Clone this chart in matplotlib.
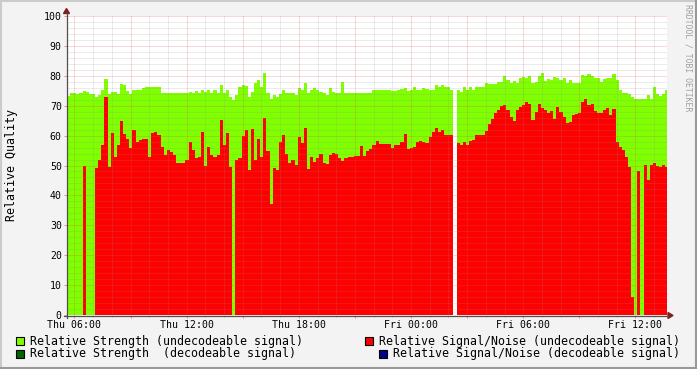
import numpy as np
import matplotlib
matplotlib.use("Agg")
import matplotlib.pyplot as plt
from matplotlib.patches import Rectangle, Polygon
from matplotlib.lines import Line2D

# ---------------- data ----------------
start_hour = 5.6          # Thu 05:36, hours since Thu 00:00
step_hours = 1.0 / 6.0    # 10 minute samples

strength = [
    73.2, 74.1, 74.1, 74.0, 74.3, 75.0, 74.7, 74.0, 73.8, 73.0,
    73.5, 75.2, 79.0, 74.0, 74.7, 74.7, 74.0, 77.2, 76.9, 75.0,
    74.0, 75.2, 75.2, 75.2, 75.8, 76.1, 76.1, 76.1, 76.1, 76.1,
    74.3, 74.3, 74.1, 74.1, 74.1, 74.1, 74.1, 74.1, 74.4, 74.5,
    74.3, 75.0, 74.1, 75.4, 74.7, 75.2, 74.3, 75.2, 74.3, 76.9,
    74.1, 75.2, 73.0, 71.9, 73.5, 76.4, 76.9, 76.6, 72.8, 74.7,
    77.5, 78.6, 76.1, 81.0, 74.1, 72.4, 73.5, 73.0, 73.8, 75.2,
    74.1, 74.3, 74.3, 73.5, 75.8, 75.2, 77.5, 74.1, 75.4, 75.8,
    75.2, 74.7, 74.1, 73.5, 75.8, 74.7, 74.3, 74.1, 78.0, 74.3,
    74.3, 74.3, 74.3, 74.3, 74.3, 74.3, 74.1, 74.3, 75.4, 75.2,
    75.2, 75.4, 75.2, 75.2, 75.0, 75.0, 75.4, 75.7, 75.9, 75.0,
    75.2, 76.4, 75.2, 75.2, 75.8, 75.7, 75.2, 75.4, 76.9, 76.1,
    77.0, 76.1, 76.1, 75.2, np.nan, 75.2, 74.7, 76.1, 75.4, 76.1,
    75.4, 76.1, 76.1, 76.4, 77.5, 77.2, 77.2, 77.2, 77.8, 78.0,
    79.9, 78.6, 77.7, 78.3, 77.5, 79.1, 79.5, 79.1, 79.9, 77.5,
    78.0, 80.0, 80.8, 78.3, 78.8, 78.6, 79.7, 79.1, 78.6, 79.1,
    77.5, 78.6, 77.5, 77.5, 77.5, 80.2, 79.9, 80.6, 80.0, 79.1,
    79.1, 78.0, 78.8, 79.1, 79.1, 80.6, 78.6, 75.2, 74.1, 74.1,
    73.9, 73.0, 72.1, 72.1, 72.1, 72.1, 73.5, 72.4, 76.1, 73.8,
    73.4, 73.8, 75.2,
]

snr = [
    0, 0, 0, 0, 0, 50, 0, 0, 0, 49,
    52, 57, 73, 49.5, 61, 53, 57, 65, 60.7, 59,
    56, 61.8, 58, 58.5, 59, 59, 53, 61, 61.3, 60.2,
    56.3, 53.5, 55.2, 54.6, 53.5, 50.7, 51, 51, 51.8, 58,
    55.2, 52.4, 52.7, 61.3, 50, 56.3, 53.5, 53, 53.5, 65.2,
    56.8, 61, 49.6, 0, 51.8, 52.4, 60, 62, 48.5, 62.2,
    51.8, 59, 53, 66, 55, 37, 49, 48.5, 58, 60.2,
    54, 50.7, 51.8, 50.2, 59.6, 57.4, 62.4, 48.7, 53, 51.3,
    52.4, 54, 51, 50.5, 53.5, 54.3, 53.8, 52.4, 51.5, 52.4,
    52.7, 53, 53.2, 53.2, 56.5, 53.2, 55, 55.4, 56.7, 58.3,
    57.2, 57.2, 57.2, 57.2, 56, 56.8, 56.8, 58, 60.7, 55.5,
    56, 56.3, 58, 58.2, 58, 57.6, 59.6, 61.3, 62.7, 61.3,
    61.8, 60.2, 60.2, 60.2, np.nan, 57.6, 56.8, 58, 57, 58.3,
    58.5, 60.2, 60.2, 60.2, 61.6, 63.8, 65.7, 67.6, 68.6, 69.9,
    70.2, 68.6, 66.3, 65, 68.5, 69.4, 70.2, 71.3, 70.5, 65.2,
    68, 70.5, 69.1, 68.5, 67.4, 68.3, 65.7, 69.4, 68, 66.3,
    64.3, 64.6, 66.8, 67.2, 67.4, 71.3, 72.4, 70.2, 70.5, 68.3,
    67.6, 67.4, 68.5, 69.1, 66.8, 68.8, 58, 56.3, 55.2, 53,
    49.6, 6, 0, 48, 0, 50.2, 45, 50.2, 51, 49.8,
    49.6, 50.2, 49.4,
]

xtick_hours = [6, 12, 18, 24, 30, 36]
xtick_labels = ["Thu 06:00", "Thu 12:00", "Thu 18:00",
                "Fri 00:00", "Fri 06:00", "Fri 12:00"]
ytick_values = list(range(0, 101, 10))

legend_labels = [
    "Relative Strength (undecodeable signal)",
    "Relative Signal/Noise (undecodeable signal)",
    "Relative Strength  (decodeable signal)",
    "Relative Signal/Noise (decodeable signal)",
]
legend_colors = ["#7FFF00", "#FF0000", "#006400", "#00008B"]

# ---------------- figure ----------------
W, H = 697, 369
MONO = "DejaVu Sans Mono"
plt.rcParams["font.family"] = [MONO]

fig = plt.figure(figsize=(W / 100, H / 100), dpi=100, facecolor="#F3F3F3")

def fx(x):
    return x / W

def fy(y):
    return 1 - y / H

L, R, T, B = 67, 667, 16, 315
ax = fig.add_axes([fx(L), fy(B), (R - L) / W, (B - T) / H])
ax.set_facecolor("white")

px_per_hour = 18.7
edges = start_hour + step_hours * np.arange(len(strength) + 1)
ax.stairs(np.array(strength, float), edges, fill=True, baseline=0,
          color="#7FFF00", lw=0, zorder=0.6)
ax.stairs(np.array(snr, float), edges, fill=True, baseline=0,
          color="#FF0000", lw=0, zorder=0.7)

ax.set_xlim(start_hour, start_hour + (R - L) / px_per_hour)
ax.set_ylim(0, 100)

# ticks / grid
major_x = np.arange(6, 37.9, 3)
lab_map = dict(zip(xtick_hours, xtick_labels))
ax.set_xticks(major_x)
ax.set_xticklabels([lab_map.get(int(round(h)), "") for h in major_x])
ax.set_xticks(np.arange(6, 37.9, 1), minor=True)
ax.set_yticks(ytick_values)
ax.set_yticklabels([str(v) for v in ytick_values])
ax.set_yticks(np.arange(0, 101, 2), minor=True)

ax.set_axisbelow(False)
dot = (0, (1, 1))
ax.grid(which="minor", color="#8F8F8F", alpha=0.35, lw=0.72, ls=dot)
ax.grid(which="major", color="#DE5050", alpha=0.45, lw=0.72, ls=dot)

ax.tick_params(which="major", length=2.5, width=0.72,
               color=(0.87, 0.31, 0.31, 0.6), labelsize=7.1, pad=1.2,
               labelcolor="black")
ax.tick_params(which="minor", length=1.5, width=0.72,
               color=(0.56, 0.56, 0.56, 0.5))
ax.tick_params(axis="y", which="minor", length=0)

for s in ax.spines.values():
    s.set_visible(False)

# axis lines with arrows (RRDtool style)
axis_col = "#505050"
arrow_col = "#7F1F1F"
fig.add_artist(Line2D([fx(66.5), fx(66.5)], [fy(318), fy(13)],
                      color=axis_col, lw=0.9, transform=fig.transFigure))
fig.add_artist(Line2D([fx(64), fx(668)], [fy(315.5), fy(315.5)],
                      color=axis_col, lw=0.9, transform=fig.transFigure))
fig.add_artist(Polygon([[fx(63.5), fy(13.5)], [fx(69.5), fy(13.5)],
                        [fx(66.5), fy(8.5)]], closed=True,
                       color=arrow_col, transform=fig.transFigure))
fig.add_artist(Polygon([[fx(668), fy(312.5)], [fx(668), fy(318.5)],
                        [fx(673), fy(315.5)]], closed=True,
                       color=arrow_col, transform=fig.transFigure))

# y label
fig.text(fx(12), fy(165), "Relative Quality", rotation=90,
         ha="center", va="center", fontsize=8.4, family=MONO)

# watermark
fig.text(fx(688), fy(4), "RRDTOOL / TOBI OETIKER", rotation=270,
         ha="center", va="top", fontsize=5.9, family=MONO, color="#A0A0A0")

# legend (manual, RRDtool layout)
legend_pos = [(16, 341), (365, 341), (16, 354), (379, 354)]
for (bx, by), lab, col in zip(legend_pos, legend_labels, legend_colors):
    fig.add_artist(Rectangle((fx(bx), fy(by + 4)), 8 / W, 8 / H,
                             facecolor=col, edgecolor="black", lw=0.8,
                             transform=fig.transFigure))
    fig.text(fx(bx + 14), fy(by), lab, ha="left", va="center",
             fontsize=8.4, family=MONO)

# 3D border
fig.add_artist(Line2D([0, 1], [fy(0.5), fy(0.5)], color="#CBCBCB", lw=1.5,
                      transform=fig.transFigure))
fig.add_artist(Line2D([fx(0.5), fx(0.5)], [0, 1], color="#CBCBCB", lw=1.5,
                      transform=fig.transFigure))
fig.add_artist(Line2D([0, 1], [fy(H - 1), fy(H - 1)], color="#999999",
                      lw=1.5, transform=fig.transFigure))
fig.add_artist(Line2D([fx(W - 1), fx(W - 1)], [0, 1], color="#999999",
                      lw=1.5, transform=fig.transFigure))

fig.savefig("out.png", dpi=100, facecolor=fig.get_facecolor())
